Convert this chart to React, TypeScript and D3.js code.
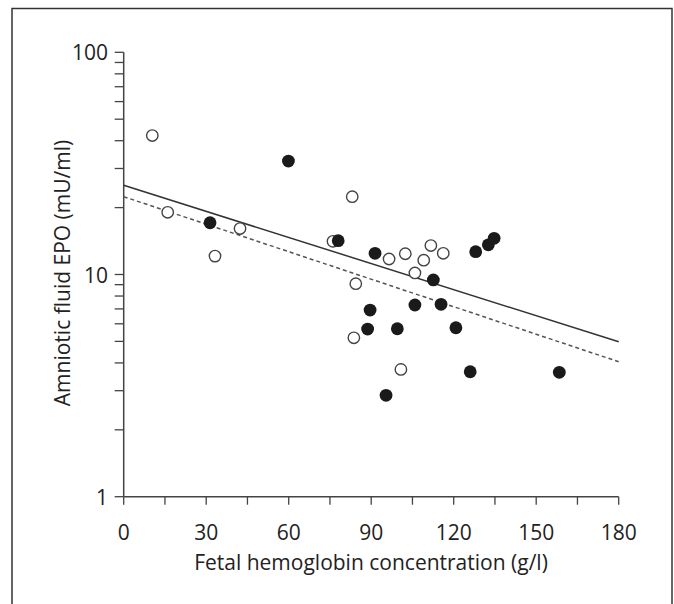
import React from "react";
import * as d3 from "d3";

const openX = [10.4, 16, 42.3, 33.2, 83.1, 76.1, 84.4, 96.5, 102.4, 111.7, 116.2, 109.1, 105.9, 83.7, 100.8];
const openY = [42.2, 19.05, 16.1, 12.1, 22.4, 14.1, 9.09, 11.74, 12.4, 13.5, 12.46, 11.6, 10.16, 5.19, 3.74];
const filledX = [59.9, 31.4, 78, 91.4, 112.6, 89.6, 105.9, 115.4, 128, 132.6, 134.7, 88.7, 99.5, 120.8, 126, 95.4, 158.4];
const filledY = [32.4, 17.1, 14.2, 12.46, 9.45, 6.92, 7.29, 7.34, 12.67, 13.6, 14.55, 5.68, 5.7, 5.76, 3.65, 2.86, 3.63];
const solidLine = [[0, 25.2], [180, 4.98]];
const dashedLine = [[0, 22.4], [180, 4.05]];
const xTicks = [0, 30, 60, 90, 120, 150, 180];
const xMinorTicks = d3.range(0, 181, 15);
const yTickLabels = [1, 10, 100];

export default function App() {
  const W = 674, H = 604;
  const x = d3.scaleLinear().domain([0, 180]).range([123.7, 618.7]);
  const y = d3.scaleLog().domain([1, 100]).range([496.7, 52.3]);
  const yMinor: number[] = [];
  for (let d = 1; d <= 10; d *= 10) for (let k = 1; k <= 9; k++) yMinor.push(k * d);
  yMinor.push(100);
  const line = d3.line<number[]>().x(d => x(d[0])).y(d => y(d[1]));
  const font = "'Open Sans', sans-serif";
  const ax = "#444";
  return (
    <svg width={W} height={H} style={{ position: "fixed", left: 0, top: 0, background: "#fff" }}>
      <rect x={12} y={8.5} width={660} height={700} fill="none" stroke="#333" strokeWidth={1.5} />
      {/* axes */}
      <line x1={x(0)} x2={x(0)} y1={y(100)} y2={y(1)} stroke={ax} strokeWidth={1.5} />
      <line x1={x(0)} x2={x(180)} y1={y(1)} y2={y(1)} stroke={ax} strokeWidth={1.5} />
      {yMinor.map(v => (
        <line key={"ym" + v} x1={x(0) - 9} x2={x(0)} y1={y(v)} y2={y(v)} stroke={ax} strokeWidth={1.3} />
      ))}
      {xMinorTicks.map(v => (
        <line key={"xm" + v} x1={x(v)} x2={x(v)} y1={y(1)} y2={y(1) + 8} stroke={ax} strokeWidth={1.3} />
      ))}
      {yTickLabels.map(v => (
        <text key={"yl" + v} x={108} y={y(v)} textAnchor="end" dominantBaseline="central" fontFamily={font} fontSize={21} fill="#222">{v}</text>
      ))}
      {xTicks.map(v => (
        <text key={"xl" + v} x={x(v)} y={540} textAnchor="middle" fontFamily={font} fontSize={21} fill="#222">{v}</text>
      ))}
      <text x={371} y={570} textAnchor="middle" fontFamily={font} fontSize={21} fill="#222">Fetal hemoglobin concentration (g/l)</text>
      <text transform={`translate(62,273) rotate(-90)`} textAnchor="middle" dominantBaseline="central" fontFamily={font} fontSize={21} fill="#222">Amniotic fluid EPO (mU/ml)</text>
      {/* regression lines */}
      <path d={line(solidLine) || ""} fill="none" stroke="#333" strokeWidth={1.5} />
      <path d={line(dashedLine) || ""} fill="none" stroke="#555" strokeWidth={1.5} strokeDasharray="4,3" />
      {/* points */}
      {openX.map((v, i) => (
        <circle key={"o" + i} cx={x(v)} cy={y(openY[i])} r={5.7} fill="#fff" stroke="#444" strokeWidth={1.4} />
      ))}
      {filledX.map((v, i) => (
        <circle key={"f" + i} cx={x(v)} cy={y(filledY[i])} r={6.4} fill="#1a1a1a" />
      ))}
    </svg>
  );
}
